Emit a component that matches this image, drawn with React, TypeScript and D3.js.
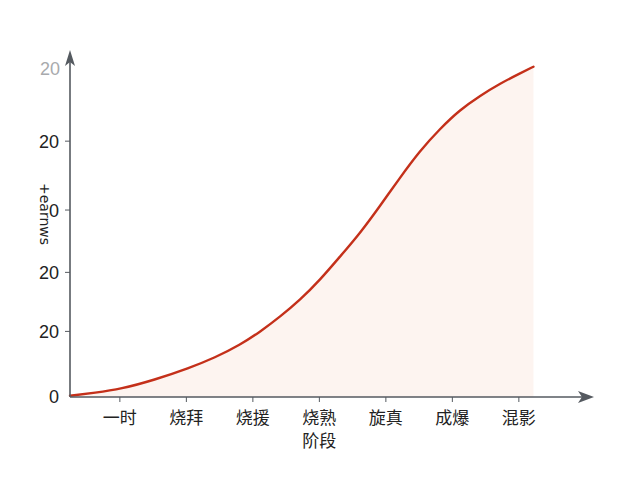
import React from "react";
import * as d3 from "d3";

const categories = ["一时", "烧拜", "烧援", "烧熟", "旋真", "成爆", "混影"];
const xAxisTitle = "阶段";
const yAxisTitle = "+earnws";
const yTickValues = [0, 20, 38, 57, 78, 100];
const yTickLabels = ["0", "20", "20", "0", "20", "20"];
const curveX = [0.25, 0.63, 1.01, 1.52, 2.04, 2.43, 2.81, 3.11, 3.41, 3.71, 4.01, 4.31, 4.61, 4.91, 5.21, 5.51, 5.81, 6.11, 6.42, 6.72, 7.02, 7.22];
const curveY = [0.4, 1.3, 2.4, 5.2, 8.8, 12.0, 15.9, 19.9, 24.5, 29.6, 35.7, 42.8, 49.9, 58.2, 66.8, 75.0, 81.7, 87.5, 91.9, 95.6, 98.7, 100.7];

const W = 640;
const H = 480;

export default function App() {
  const x = d3.scaleLinear().domain([0.25, 8.1]).range([70, 592]);
  const y = d3.scaleLinear().domain([0, 100]).range([397, 69]);
  const pts: [number, number][] = curveX.map((v, i) => [v, curveY[i]]);
  const line = d3
    .line<[number, number]>()
    .x((d) => x(d[0]))
    .y((d) => y(d[1]))
    .curve(d3.curveBasis);
  const area = d3
    .area<[number, number]>()
    .x((d) => x(d[0]))
    .y0(y(0))
    .y1((d) => y(d[1]))
    .curve(d3.curveBasis);
  const axisColor = "#555a60";
  const x0 = x(0.25);
  const yBase = y(0);
  return (
    <svg
      width={W}
      height={H}
      style={{ position: "absolute", left: 0, top: 0, background: "#fff" }}
    >
      <path d={area(pts) || ""} fill="#fdf1ec" opacity={0.8} />
      <path
        d={line(pts) || ""}
        fill="none"
        stroke="#c4301a"
        strokeWidth={2.4}
        strokeLinecap="round"
      />
      {/* y axis */}
      <line x1={x0} x2={x0} y1={yBase} y2={56} stroke={axisColor} strokeWidth={1.6} />
      <path d={`M${x0},50 L${x0 - 5},66 L${x0},62 L${x0 + 5},66 Z`} fill={axisColor} />
      {/* x axis */}
      <line x1={x0} x2={588} y1={yBase} y2={yBase} stroke={axisColor} strokeWidth={1.6} />
      <path d={`M594,${yBase} L578,${yBase - 6} L582,${yBase} L578,${yBase + 6} Z`} fill={axisColor} />
      {yTickValues.map((v, i) => (
        <g key={"yt" + i}>
          {i > 0 && i < yTickValues.length - 1 && (
            <line x1={x0 - 5} x2={x0} y1={y(v)} y2={y(v)} stroke={axisColor} strokeWidth={1} />
          )}
          <text
            x={i === yTickValues.length - 1 ? 60 : 59}
            y={y(v)}
            dy="0.36em"
            textAnchor="end"
            fontFamily="'Liberation Sans', Arial, sans-serif"
            fontSize={18}
            fill={i === yTickValues.length - 1 ? "#a8aaad" : "#222"}
          >
            {yTickLabels[i]}
          </text>
        </g>
      ))}
      {categories.map((c, i) => (
        <g key={"xc" + i}>
          <line x1={x(i + 1)} x2={x(i + 1)} y1={yBase} y2={yBase + 5} stroke={axisColor} strokeWidth={1} />
          <text
            x={x(i + 1)}
            y={418}
            dy="0.36em"
            textAnchor="middle"
            fontFamily="'Noto Sans CJK SC', sans-serif"
            fontSize={17}
            fill="#222"
          >
            {c}
          </text>
        </g>
      ))}
      <text
        x={x(4)}
        y={441}
        dy="0.36em"
        textAnchor="middle"
        fontFamily="'Noto Sans CJK SC', sans-serif"
        fontSize={17}
        fill="#222"
      >
        {xAxisTitle}
      </text>
      <text
        transform={`translate(45,214) rotate(90)`}
        textAnchor="middle"
        dy="0.36em"
        fontFamily="'DejaVu Sans', sans-serif"
        fontSize={14}
        fill="#222"
      >
        {yAxisTitle}
      </text>
    </svg>
  );
}
